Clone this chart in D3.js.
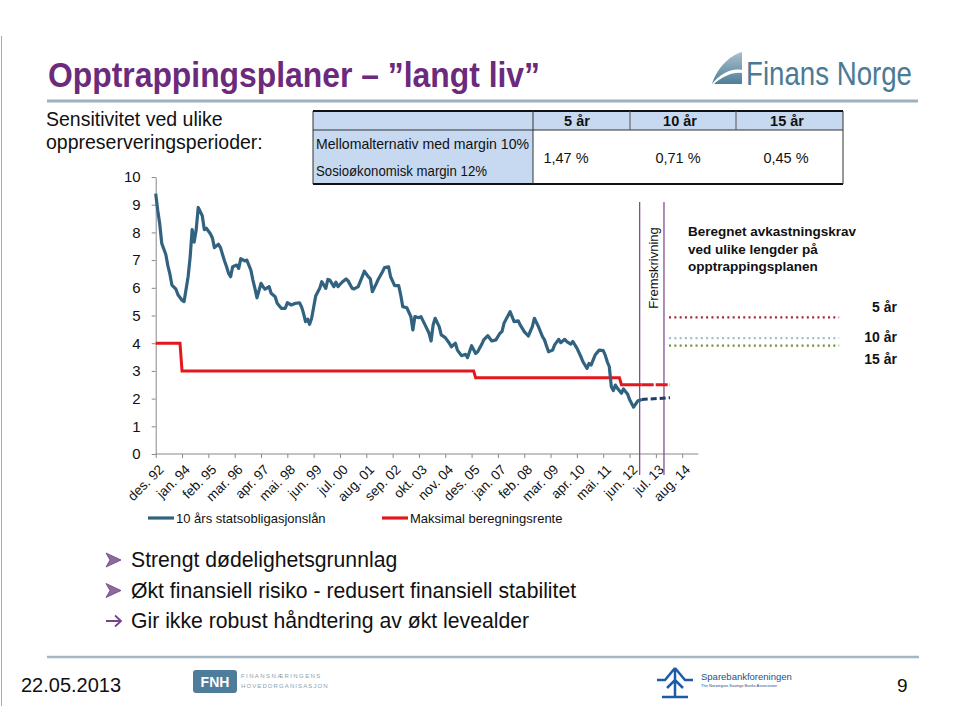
<!DOCTYPE html>
<html><head><meta charset="utf-8">
<script src="https://cdn.jsdelivr.net/npm/d3@7"></script>
<style>
body{margin:0;background:#fff}
svg{display:block}
text{font-family:"Liberation Sans",Arial,sans-serif}
</style>
</head><body>
<svg id="c" width="960" height="721"></svg>
<script>
// ---------- DATA ----------
const tickLabels = ["des. 92","jan. 94","feb. 95","mar. 96","apr. 97","mai. 98","jun. 99","jul. 00","aug. 01","sep. 02","okt. 03","nov. 04","des. 05","jan. 07","feb. 08","mar. 09","apr. 10","mai. 11","jun. 12","jul. 13","aug. 14"];
const yTicks = [0,1,2,3,4,5,6,7,8,9,10];
// month offsets counted from des. 92
const bondMonths = [0,1,2,3,5,6,7,8,10,11,13,14,16,17,18,19,20,21,23,24,25,27,28,29,31,32,33,34,35,36,37,38,40,41,42,44,45,47,48,49,50,52,53,54,56,57,59,60,62,64,65,67,69,71,72,73,74,75,76,77,78,79,81,82,84,85,86,88,89,90,92,94,95,97,98,100,102,103,105,106,107,109,110,112,113,115,116,118,120,121,122,124,126,127,128,130,131,133,135,136,137,138,140,141,143,145,146,148,149,151,153,154,156,158,159,161,162,164,166,168,170,171,172,173,175,176,177,179,180,182,184,186,187,189,191,192,193,194,196,197,199,200,202,203,205,206,208,210,211,213,214,215,217,219,221,222,223,224,225,226,227,228,230,231,233,234,236,238,240];
const bondValues = [9.4,8.8,8.3,7.6,7.2,6.8,6.5,6.1,5.95,5.75,5.55,5.5,6.4,7.1,8.1,7.65,8.1,8.9,8.6,8.1,8.15,7.95,7.8,7.45,7.57,7.45,7.2,6.97,6.76,6.52,6.4,6.76,6.82,6.7,7.05,6.97,7.0,6.64,6.28,5.98,5.64,6.16,6.04,5.95,6.04,5.8,5.68,5.44,5.26,5.26,5.46,5.38,5.44,5.46,5.32,5.08,4.78,4.87,4.68,4.9,5.3,5.7,5.98,6.22,5.98,6.3,6.28,6.04,6.2,6.04,6.2,6.32,6.25,5.98,5.96,6.04,6.4,6.6,6.4,6.32,5.86,6.16,6.32,6.58,6.73,6.76,6.4,6.08,6.08,5.74,5.32,5.28,4.96,4.48,4.96,4.92,4.96,4.66,4.36,4.08,4.66,4.9,4.6,4.3,4.2,4.0,3.87,4.0,3.75,3.55,3.6,3.48,3.91,3.63,3.69,3.96,4.12,4.27,4.08,4.12,4.36,4.42,4.72,4.86,5.14,4.96,4.78,4.81,4.66,4.42,4.26,4.6,4.9,4.6,4.24,4.12,3.9,3.69,3.75,3.94,4.14,4.02,4.14,4.06,3.97,4.06,3.82,3.51,3.33,3.09,3.27,3.21,3.57,3.75,3.73,3.57,3.33,3.15,2.43,2.29,2.49,2.37,2.19,2.35,2.17,1.97,1.69,1.91,1.97];
const bondForecastMonths = [240, 254];
const bondForecastValues = [1.97, 2.03];
const rateMonths = [0,12,13,157,158,229,230,240];
const rateValues = [4,4,3,3,2.75,2.75,2.5,2.5];
const rateForecastMonths = [240, 254];
const rateForecastValues = [2.5, 2.5];
const projectionMonths = [239, 251];
const scenarioNames = ["5 år","10 år","15 år"];
const scenarioValues = [4.93, 4.18, 3.91];
const scenarioColors = ["#A3243B","#9DBFCB","#6F8F3A"];
const scenarioSpan = [253.5, 337.5];
const tableHeaders = ["5 år","10 år","15 år"];
const tableValues = ["1,47 %","0,71 %","0,45 %"];
const tableRowLabels = ["Mellomalternativ med margin 10%","Sosioøkonomisk margin 12%"];
const seriesNames = ["10 års statsobligasjonslån","Maksimal beregningsrente"];
const bullets = ["Strengt dødelighetsgrunnlag","Økt finansiell risiko - redusert finansiell stabilitet","Gir ikke robust håndtering av økt levealder"];

// ---------- DRAW ----------
const svg = d3.select("#c");
svg.append("rect").attr("width",960).attr("height",721).attr("fill","#fff");
svg.append("line").attr("x1",1.5).attr("x2",1.5).attr("y1",36).attr("y2",706).attr("stroke","#a8a8a8").attr("stroke-width",1);

// title
svg.append("text").attr("x",48).attr("y",87).attr("font-size",35).attr("font-weight","bold")
  .attr("fill","#6C2A7C").attr("textLength",492).attr("lengthAdjust","spacingAndGlyphs")
  .text("Opptrappingsplaner – ”langt liv”");
svg.append("line").attr("x1",47).attr("x2",918).attr("y1",101).attr("y2",101).attr("stroke","#9DB2BF").attr("stroke-width",3);

// Finans Norge logo
const lg = svg.append("g");
const grad = svg.append("defs").append("linearGradient").attr("id","lgr").attr("x1",0).attr("y1",0).attr("x2",0).attr("y2",1);
grad.append("stop").attr("offset",0).attr("stop-color","#A9C0CD");
grad.append("stop").attr("offset",1).attr("stop-color","#4F7E98");
lg.append("path").attr("d","M712,84 C716,70 728,56 742,52 L742,84 Z").attr("fill","url(#lgr)");
lg.append("path").attr("d","M712,84 C720,74 731,68 742,70 L742,73 C732,72 722,77 714,84 Z").attr("fill","#fff");
lg.append("text").attr("x",746).attr("y",85).attr("font-size",34).attr("fill","#4A7A95")
  .attr("textLength",166).attr("lengthAdjust","spacingAndGlyphs").text("Finans Norge");

// left subtitle
svg.append("text").attr("x",46).attr("y",126).attr("font-size",19.5).attr("fill","#111").text("Sensitivitet ved ulike");
svg.append("text").attr("x",46).attr("y",149).attr("font-size",19.5).attr("fill","#111").text("oppreserveringsperioder:");

// table
const tb = svg.append("g");
const tL=313, tR=843, tT=111, tH=130, tB=184, c0=533, cols=[533,630,736,843];
const tFont = "Lato, 'Open Sans', sans-serif";
tb.append("rect").attr("x",tL).attr("y",tT).attr("width",tR-tL).attr("height",tH-tT).attr("fill","#C6D9F0");
tb.append("rect").attr("x",tL).attr("y",tH).attr("width",c0-tL).attr("height",tB-tH).attr("fill","#C6D9F0");
tb.append("line").attr("x1",tL).attr("x2",tR).attr("y1",tT).attr("y2",tT).attr("stroke","#111").attr("stroke-width",2);
tb.append("line").attr("x1",tL).attr("x2",tR).attr("y1",tB).attr("y2",tB).attr("stroke","#111").attr("stroke-width",2);
tb.append("line").attr("x1",tL).attr("x2",tR).attr("y1",tH).attr("y2",tH).attr("stroke","#333").attr("stroke-width",1);
tb.append("line").attr("x1",tL).attr("x2",tL).attr("y1",tT).attr("y2",tB).attr("stroke","#333").attr("stroke-width",1);
tb.append("line").attr("x1",tR).attr("x2",tR).attr("y1",tT).attr("y2",tB).attr("stroke","#333").attr("stroke-width",1);
tb.append("line").attr("x1",c0).attr("x2",c0).attr("y1",tT).attr("y2",tB).attr("stroke","#333").attr("stroke-width",1);
[cols[1],cols[2]].forEach(cx=>tb.append("line").attr("x1",cx).attr("x2",cx).attr("y1",tT).attr("y2",tH).attr("stroke","#555").attr("stroke-width",1));
const headX=[577,680,787], valX=[566,678,786];
tableHeaders.forEach((h,i)=>tb.append("text").attr("x",headX[i]).attr("y",126).attr("text-anchor","middle")
  .attr("font-family",tFont).attr("font-weight","bold").attr("font-size",14.5).attr("fill","#111").text(h));
tableValues.forEach((v,i)=>tb.append("text").attr("x",valX[i]).attr("y",163).attr("text-anchor","middle")
  .attr("font-family",tFont).attr("font-size",14.5).attr("fill","#111").text(v));
tableRowLabels.forEach((t,i)=>tb.append("text").attr("x",316).attr("y",149+i*27)
  .attr("font-family",tFont).attr("font-size",14.5).attr("fill","#111")
  .attr("textLength",i==0?213:171).attr("lengthAdjust","spacingAndGlyphs").text(t));

// scales
const x = d3.scaleLinear().domain([0,260]).range([155.7,682.2]);
const y = d3.scaleLinear().domain([0,10]).range([454,177]);
const axisEndMonth = 268;

// y axis
const ya = svg.append("g").attr("transform",`translate(${x(0)},0)`)
  .call(d3.axisLeft(y).tickValues(yTicks).tickSize(4).tickPadding(11).tickSizeOuter(0));
ya.select(".domain").attr("stroke","#888");
ya.selectAll(".tick line").attr("stroke","#888");
ya.selectAll(".tick text").attr("font-size",15).attr("fill","#111").attr("font-family","'Liberation Sans',Arial,sans-serif");

// x axis
const tickMonths = tickLabels.map((d,i)=>i*13);
const xa = svg.append("g").attr("transform",`translate(0,${y(0)})`)
  .call(d3.axisBottom(x).tickValues(tickMonths).tickFormat((d,i)=>tickLabels[i]).tickSize(4).tickSizeOuter(0));
xa.select(".domain").attr("d",`M${x(0)},0H${x(axisEndMonth)}`).attr("stroke","#888");
xa.selectAll(".tick line").attr("stroke","#888");
xa.selectAll(".tick text").attr("font-size",13.5).attr("fill","#111").attr("font-family","'Liberation Sans',Arial,sans-serif")
  .attr("text-anchor","end").attr("x",0).attr("y",0).attr("dy","0.35em").attr("transform","translate(5,13) rotate(-45)");

// projection lines
projectionMonths.forEach(m=>svg.append("line").attr("x1",x(m)).attr("x2",x(m)).attr("y1",202).attr("y2",475)
  .attr("stroke","#7B3F8E").attr("stroke-width",1.2));
svg.append("text").attr("transform",`translate(${(x(projectionMonths[0])+x(projectionMonths[1]))/2+6},268) rotate(-90)`)
  .attr("text-anchor","middle").attr("font-size",13).attr("fill","#111").text("Fremskrivning");

const line = d3.line().x(d=>x(d[0])).y(d=>y(d[1]));
const zip=(a,b)=>a.map((d,i)=>[d,b[i]]);
// red
svg.append("path").attr("d",line(zip(rateMonths,rateValues))).attr("fill","none").attr("stroke","#E3171D").attr("stroke-width",3);
svg.append("path").attr("d",line(zip(rateForecastMonths,rateForecastValues))).attr("fill","none").attr("stroke","#E3171D").attr("stroke-width",3).attr("stroke-dasharray","12,2");
// blue
svg.append("path").attr("d",line(zip(bondMonths,bondValues))).attr("fill","none").attr("stroke","#31627F").attr("stroke-width",3.2).attr("stroke-linejoin","round");
svg.append("path").attr("d",line(zip(bondForecastMonths,bondForecastValues))).attr("fill","none").attr("stroke","#1F3F6B").attr("stroke-width",3).attr("stroke-dasharray","6,3");

// scenario dotted lines
scenarioValues.forEach((v,i)=>svg.append("line").attr("x1",x(scenarioSpan[0])).attr("x2",x(scenarioSpan[1]))
  .attr("y1",y(v)).attr("y2",y(v)).attr("stroke",scenarioColors[i]).attr("stroke-width",2.2).attr("stroke-dasharray","2,3.3"));
const scenLabelY=[311.5,341.5,364];
scenarioNames.forEach((n,i)=>svg.append("text").attr("x",897).attr("y",scenLabelY[i]).attr("text-anchor","end")
  .attr("font-size",14).attr("font-weight","bold").attr("fill","#111").text(n));
["Beregnet avkastningskrav","ved ulike lengder på","opptrappingsplanen"].forEach((t,i)=>svg.append("text")
  .attr("x",688).attr("y",236+i*17.5).attr("font-size",13.5).attr("font-weight","bold").attr("fill","#111").text(t));

// legend
const legColors=["#31627F","#E3171D"], legX=[148,382];
seriesNames.forEach((n,i)=>{
  svg.append("line").attr("x1",legX[i]).attr("x2",legX[i]+26).attr("y1",518).attr("y2",518).attr("stroke",legColors[i]).attr("stroke-width",3.2);
  svg.append("text").attr("x",legX[i]+28).attr("y",522.5).attr("font-size",13).attr("fill","#111").text(n);
});

// bullets
bullets.forEach((b,i)=>{
  const by=567+i*30.5;
  if(i<2){
    svg.append("path").attr("d",`M106,${by-14} L121,${by-7} L106,${by} L110,${by-7} Z`).attr("fill","#8D6A9C").attr("stroke","#6C3C80").attr("stroke-width",0.8);
  } else {
    svg.append("path").attr("d",`M106,${by-7} L121,${by-7} M115,${by-12.5} L121,${by-7} L115,${by-1.5}`).attr("fill","none").attr("stroke","#7B3F8E").attr("stroke-width",1.8);
  }
  svg.append("text").attr("x",131).attr("y",by).attr("font-size",21.2).attr("fill","#111").text(b);
});

// footer
svg.append("line").attr("x1",47).attr("x2",919).attr("y1",657).attr("y2",657).attr("stroke","#A5B7C2").attr("stroke-width",2.5);
svg.append("text").attr("x",21).attr("y",692).attr("font-size",20).attr("fill","#111").text("22.05.2013");
svg.append("text").attr("x",897).attr("y",692).attr("font-size",19).attr("fill","#111").text("9");
svg.append("rect").attr("x",193).attr("y",670).attr("width",44).attr("height",23).attr("rx",3).attr("fill","#4E7D9C");
svg.append("text").attr("x",215).attr("y",687).attr("text-anchor","middle").attr("font-size",14).attr("font-weight","bold").attr("fill","#fff").text("FNH");
svg.append("text").attr("x",241).attr("y",678).attr("font-size",6).attr("fill","#8AA0AE").attr("letter-spacing",1.4).text("FINANSNÆRINGENS");
svg.append("text").attr("x",241).attr("y",688).attr("font-size",6).attr("fill","#8AA0AE").attr("letter-spacing",1.1).text("HOVEDORGANISASJON");
// Sparebankforeningen logo
const sb = svg.append("g").attr("fill","none").attr("stroke","#1E5BA6").attr("stroke-width",2.5);
sb.append("path").attr("d","M675,668 L665,680 L657,680 M675,668 L685,680 L693,680 M675,670 L675,697 M662,697 L688,697 M667,688 L675,680 L683,688");
svg.append("text").attr("x",701).attr("y",680).attr("font-size",9.5).attr("fill","#1E4F8A").attr("font-family","'Liberation Sans Narrow','Liberation Sans',sans-serif").text("Sparebankforeningen");
svg.append("text").attr("x",701).attr("y",687).attr("font-size",4).attr("fill","#1E4F8A").text("The Norwegian Savings Banks Association");
</script>
</body></html>
